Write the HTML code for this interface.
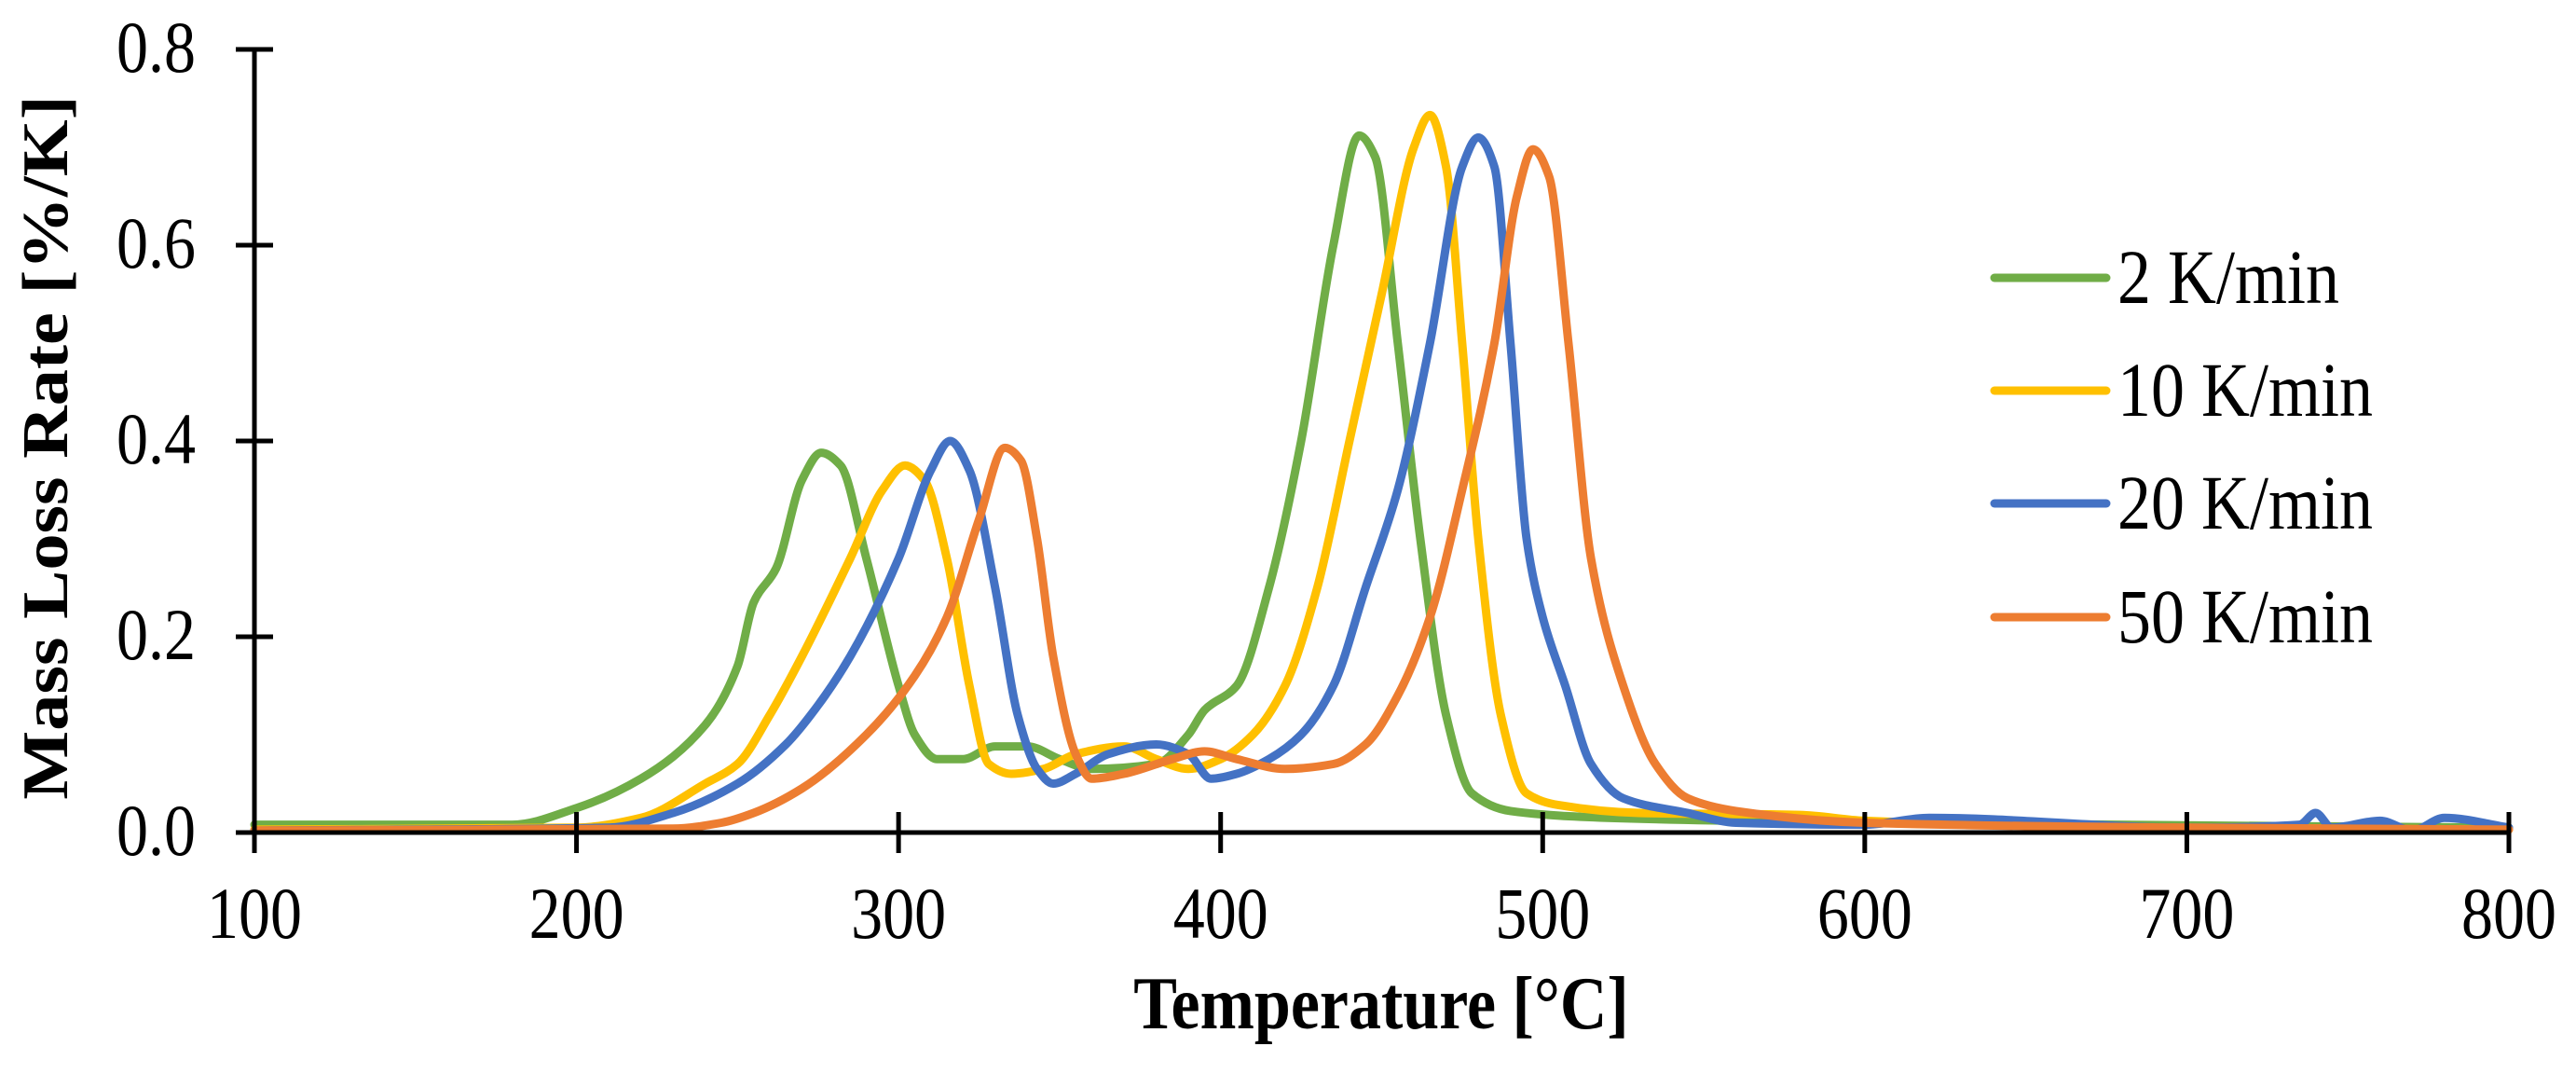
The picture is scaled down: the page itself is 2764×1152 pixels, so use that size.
<!DOCTYPE html>
<html><head><meta charset="utf-8"><style>
html,body{margin:0;padding:0;background:#fff;}
svg{display:block;font-family:"Liberation Serif",serif;}
</style></head><body>
<svg id="chart" width="2764" height="1152" viewBox="0 0 2764 1152" xmlns="http://www.w3.org/2000/svg"></svg>
<script>
const xTicks=[100,200,300,400,500,600,700,800];
const yTicks=[0,0.2,0.4,0.6,0.8];
const yTickLabels=["0.0","0.2","0.4","0.6","0.8"];
const seriesNames=["2 K/min","10 K/min","20 K/min","50 K/min"];
const seriesColors=["#70ad47","#ffc000","#4472c4","#ed7d31"];
const t2=[100,180,200,220,240,250,255,262,270,276,282,290,300,305,312,320,330,340,350,360,380,390,395,405,415,425,435,443,448,455,462,470,478,490,520,600,800];
const v2=[0.008,0.008,0.025,0.055,0.11,0.17,0.235,0.27,0.36,0.388,0.375,0.28,0.15,0.1,0.075,0.075,0.088,0.088,0.075,0.065,0.07,0.1,0.125,0.15,0.25,0.4,0.6,0.712,0.69,0.5,0.3,0.12,0.04,0.022,0.015,0.01,0.005];
const t10=[100,200,220,240,250,260,270,285,295,302,308,315,322,328,335,345,355,370,380,390,400,410,420,430,440,450,460,465,470,475,480,487,495,505,530,580,600,700,800];
const v10=[0.003,0.005,0.015,0.05,0.07,0.12,0.18,0.28,0.35,0.375,0.36,0.28,0.15,0.07,0.06,0.065,0.08,0.088,0.075,0.065,0.075,0.1,0.15,0.25,0.4,0.55,0.7,0.733,0.68,0.5,0.3,0.12,0.04,0.028,0.02,0.018,0.012,0.005,0.003];
const t20=[100,210,230,250,265,275,285,300,310,316,322,330,337,343,348,355,365,380,390,397,405,415,425,435,445,455,465,475,480,485,490,495,500,507,515,525,545,560,600,620,700,735,740,745,760,770,780,800];
const v20=[0.002,0.005,0.02,0.05,0.09,0.13,0.18,0.28,0.37,0.4,0.37,0.25,0.12,0.065,0.05,0.06,0.08,0.09,0.08,0.055,0.06,0.075,0.1,0.15,0.25,0.35,0.5,0.68,0.71,0.68,0.5,0.3,0.22,0.15,0.07,0.035,0.02,0.01,0.008,0.015,0.005,0.008,0.02,0.005,0.012,0.002,0.015,0.005];
const t50=[100,230,245,255,270,290,305,315,325,333,338,343,348,355,360,370,385,395,405,420,435,445,455,465,475,485,492,497,502,508,515,525,535,545,560,600,700,800];
const v50=[0.002,0.004,0.01,0.02,0.045,0.1,0.16,0.22,0.32,0.393,0.38,0.3,0.18,0.08,0.055,0.06,0.075,0.083,0.075,0.065,0.07,0.09,0.14,0.22,0.35,0.5,0.65,0.698,0.67,0.5,0.28,0.15,0.07,0.035,0.022,0.01,0.005,0.003];
const seriesT=[t2,t10,t20,t50], seriesV=[v2,v10,v20,v50];

const X0=273,X1=2692,Y0=893,Y1=53;
const xs=t=>X0+(t-100)/700*(X1-X0);
const ys=v=>Y0-v/0.8*(Y0-Y1);
const svg=document.getElementById('chart');
const NS='http://www.w3.org/2000/svg';
function mk(tag,attrs,parent){const e=document.createElementNS(NS,tag);for(const k in attrs)e.setAttribute(k,attrs[k]);(parent||svg).appendChild(e);return e;}

function monotonePath(pts){
  const n=pts.length, d=[], m=new Array(n);
  for(let i=0;i<n-1;i++) d.push((pts[i+1][1]-pts[i][1])/(pts[i+1][0]-pts[i][0]));
  m[0]=d[0]; m[n-1]=d[n-2];
  for(let i=1;i<n-1;i++){
    if(d[i-1]*d[i]<=0) m[i]=0;
    else { const h0=pts[i][0]-pts[i-1][0], h1=pts[i+1][0]-pts[i][0];
      const w1=2*h1+h0, w2=h1+2*h0; m[i]=(w1+w2)/(w1/d[i-1]+w2/d[i]); }
  }
  let s='M'+pts[0][0]+','+pts[0][1];
  for(let i=0;i<n-1;i++){
    const h=(pts[i+1][0]-pts[i][0])/3;
    s+=' C'+(pts[i][0]+h)+','+(pts[i][1]+m[i]*h)+' '+(pts[i+1][0]-h)+','+(pts[i+1][1]-m[i+1]*h)+' '+pts[i+1][0]+','+pts[i+1][1];
  }
  return s;
}

seriesT.forEach((ts,i)=>{
  const vs=seriesV[i];
  const pts=ts.map((t,j)=>[xs(t),ys(vs[j])]);
  const p=mk('path',{d:monotonePath(pts),fill:'none',stroke:seriesColors[i],'stroke-width':9,'stroke-linejoin':'round','stroke-linecap':'round'});
  
  
});

const ax=mk('line',{x1:X0,y1:Y1,x2:X0,y2:Y0,stroke:'#000','stroke-width':5});


const axx=mk('line',{x1:X0,y1:Y0,x2:X1,y2:Y0,stroke:'#000','stroke-width':5});



function txt(x,y,str,size,anchor,bold,parent){
  const t=mk('text',{transform:'translate('+x+','+y+') scale(1,1.15)','text-anchor':anchor,'font-size':size},parent);
  if(bold) t.setAttribute('font-weight','bold');
  t.textContent=str; return t;
}

yTicks.forEach((v,i)=>{
  const tk=mk('line',{x1:X0-20,x2:X0+20,y1:ys(v),y2:ys(v),stroke:'#000','stroke-width':5});
  
  
  const tx=txt(210,ys(v)+24,yTickLabels[i],68,'end',false);
  
  
});
xTicks.forEach(t=>{
  const tk=mk('line',{x1:xs(t),x2:xs(t),y1:Y0-22,y2:Y0+22,stroke:'#000','stroke-width':5});
  
  
  const tx=txt(xs(t),1006,String(t),68,'middle',false);
  
  
});

const xt=txt(1482,1103,'Temperature [°C]',70,'middle',true);


const yt=mk('text',{transform:'translate(72,480) rotate(-90) scale(1.12,1)','text-anchor':'middle','font-size':70,'font-weight':'bold'});
yt.textContent='Mass Loss Rate [%/K]';



const legY=[298,419,540,662];
seriesNames.forEach((n,i)=>{
  const g=mk('g',{});
  
  
  mk('line',{x1:2140,x2:2260,y1:legY[i],y2:legY[i],stroke:seriesColors[i],'stroke-width':9,'stroke-linecap':'round'},g);
  txt(2272,legY[i]+27,n,72,'start',false,g);
});
</script>
</body></html>
